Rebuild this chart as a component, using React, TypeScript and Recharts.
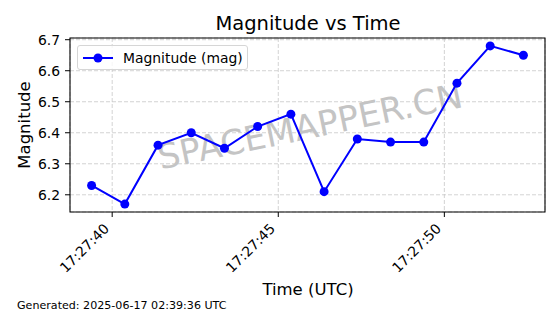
import React from "react";
import { LineChart, Line, XAxis, YAxis, CartesianGrid, ReferenceArea } from "recharts";

// seconds after 17:27:00 UTC
const timeSec = [39.38, 40.38, 41.38, 42.38, 43.38, 44.38, 45.38, 46.38, 47.38, 48.38, 49.38, 50.38, 51.38, 52.38];
const magnitude = [6.23, 6.17, 6.36, 6.4, 6.35, 6.42, 6.46, 6.21, 6.38, 6.37, 6.37, 6.56, 6.68, 6.65];
const xTicks = [40, 45, 50];
const yTicks = [6.2, 6.3, 6.4, 6.5, 6.6, 6.7];
const xDomain: [number, number] = [38.73, 53.03];
const yDomain: [number, number] = [6.1445, 6.7055];

const W = 560;
const H = 314;
const FONT = "DejaVu Sans, sans-serif";
const BLUE = "#0000ff";

const rows = timeSec.map((t, i) => ({ t, mag: magnitude[i] }));

const fmtTime = (s: number) => `17:27:${String(s).padStart(2, "0")}`;

function XTick(props: any) {
  const { x, y, payload } = props;
  const px = x - 2.3;
  const py = y + 7.5;
  return (
    <text
      x={px}
      y={py}
      textAnchor="end"
      fontSize={13.9}
      fontFamily={FONT}
      fill="#000"
      transform={`rotate(-45 ${px} ${py})`}
    >
      {fmtTime(payload.value)}
    </text>
  );
}

function YTick(props: any) {
  const { x, y, payload } = props;
  return (
    <text x={x} y={y} dy="0.36em" textAnchor="end" fontSize={13.9} fontFamily={FONT} fill="#000">
      {payload.value.toFixed(1)}
    </text>
  );
}

export default function App() {
  return (
    <div style={{ position: "absolute", left: 0, top: 0, width: W, height: H, background: "#fff" }}>
      <svg width={W} height={H} style={{ position: "absolute", left: 0, top: 0 }}>
        <text x={308} y={30} textAnchor="middle" fontSize={19.5} fontFamily={FONT} fill="#000">
          Magnitude vs Time
        </text>
        <text
          x={30}
          y={125}
          textAnchor="middle"
          fontSize={16.5}
          fontFamily={FONT}
          fill="#000"
          transform="rotate(-90 30 125)"
        >
          Magnitude
        </text>
        <text x={308} y={295} textAnchor="middle" fontSize={16.5} fontFamily={FONT} fill="#000">
          Time (UTC)
        </text>
        <text x={17} y={309} fontSize={11.1} fontFamily={FONT} fill="#000">
          Generated: 2025-06-17 02:39:36 UTC
        </text>
        <text
          x={310}
          y={126}
          dy="0.36em"
          textAnchor="middle"
          fontSize={34.5}
          fontFamily={FONT}
          fill="#c4c4c4"
          transform="rotate(-11.7 310 126)"
        >
          SPACEMAPPER.CN
        </text>
      </svg>
      <LineChart
        width={W}
        height={H}
        data={rows}
        margin={{ top: 38, right: 15, bottom: 0, left: 0 }}
        style={{ position: "absolute", left: 0, top: 0 }}
      >
        <CartesianGrid stroke="#c8c8c8" strokeWidth={0.8} strokeDasharray="4 2" />
        <XAxis
          type="number"
          dataKey="t"
          domain={xDomain}
          ticks={xTicks}
          allowDataOverflow
          height={102}
          axisLine={false}
          tickLine={{ stroke: "#000", strokeWidth: 1 }}
          tickSize={5}
          tickMargin={5}
          tick={<XTick />}
          interval={0}
        />
        <YAxis
          type="number"
          domain={yDomain}
          ticks={yTicks}
          allowDataOverflow
          width={70}
          axisLine={false}
          tickLine={{ stroke: "#000", strokeWidth: 1 }}
          tickSize={5}
          tickMargin={5}
          tick={<YTick />}
          interval={0}
        />
        <ReferenceArea
          x1={xDomain[0]}
          x2={xDomain[1]}
          y1={yDomain[0]}
          y2={yDomain[1]}
          fill="none"
          fillOpacity={0}
          stroke="#000"
          strokeWidth={1.1}
        />
        <Line
          dataKey="mag"
          stroke={BLUE}
          strokeWidth={2}
          dot={{ r: 4.5, fill: BLUE, stroke: BLUE, strokeWidth: 0 }}
          isAnimationActive={false}
        />
      </LineChart>
      <div
        style={{
          position: "absolute",
          left: 77,
          top: 45,
          width: 169,
          height: 23,
          border: "1px solid #d6d6d6",
          borderRadius: 3,
          background: "rgba(255,255,255,0.8)",
          display: "flex",
          alignItems: "center",
          fontFamily: FONT,
          fontSize: 13.9,
        }}
      >
        <svg width={40} height={23} style={{ marginLeft: 4 }}>
          <line x1={1} x2={31} y1={12} y2={12} stroke={BLUE} strokeWidth={2} />
          <circle cx={16} cy={12} r={4.5} fill={BLUE} />
        </svg>
        <span style={{ marginLeft: 1 }}>Magnitude (mag)</span>
      </div>
    </div>
  );
}
